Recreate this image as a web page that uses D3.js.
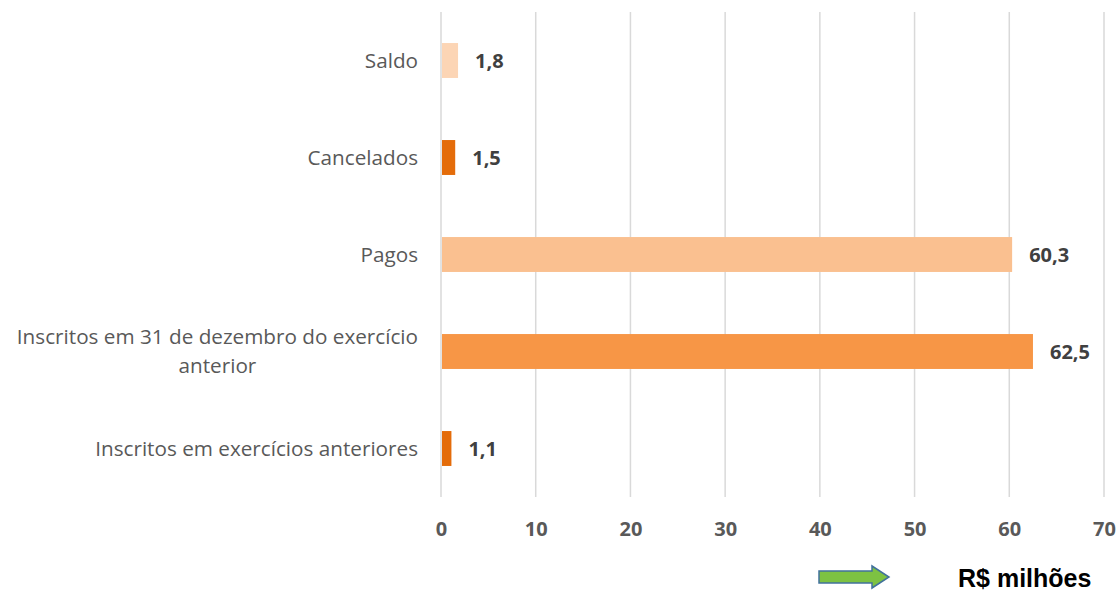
<!DOCTYPE html>
<html>
<head>
<meta charset="utf-8">
<script src="https://cdn.jsdelivr.net/npm/d3@7"></script>
<style>
  html, body { margin: 0; padding: 0; background: #fff; }
  #chartDiv { width: 1119px; height: 591px; }
</style>
</head>
<body>
<div id="chartDiv"></div>
<script>
const categories = [
  "Inscritos em exercícios anteriores",
  "Inscritos em 31 de dezembro do exercício anterior",
  "Pagos",
  "Cancelados",
  "Saldo"
];
const values = [1.1, 62.5, 60.3, 1.5, 1.8];
const barColors = ["#e46c0a", "#f79646", "#fac090", "#e46c0a", "#fcd5b5"];
const tickValues = [0, 10, 20, 30, 40, 50, 60, 70];
const unitLabel = "R$ milhões";

const width = 1119, height = 591;
const fontFamily = "'Open Sans', 'Noto Sans', sans-serif";

const svg = d3.select("#chartDiv").append("svg")
    .attr("width", width)
    .attr("height", height)
    .attr("viewBox", [0, 0, width, height]);

const x = d3.scaleLinear().domain([0, 70]).range([441, 1104]);
// categories run bottom to top
const y = d3.scaleBand()
    .domain(categories.slice().reverse())
    .range([12, 497])
    .paddingInner(0.64)
    .paddingOuter(0.32);

// grid
svg.append("g")
  .selectAll("line")
  .data(tickValues)
  .join("line")
    .attr("x1", d => x(d)).attr("x2", d => x(d))
    .attr("y1", 12).attr("y2", 497)
    .attr("stroke", "#d9d9d9")
    .attr("stroke-width", 1.5);

// bars
const rows = categories.map((c, i) => ({cat: c, value: values[i], color: barColors[i]}));
svg.append("g")
  .selectAll("rect")
  .data(rows)
  .join("rect")
    .attr("x", x(0) + 1)
    .attr("y", d => y(d.cat))
    .attr("width", d => x(d.value) - x(0) - 1)
    .attr("height", y.bandwidth())
    .attr("fill", d => d.color);

// value labels
svg.append("g")
  .selectAll("text")
  .data(rows)
  .join("text")
    .attr("x", d => x(d.value) + 17)
    .attr("y", d => y(d.cat) + y.bandwidth() / 2)
    .attr("dy", "0.35em")
    .attr("font-family", fontFamily)
    .attr("font-size", 20)
    .attr("font-weight", "bold")
    .attr("fill", "#404040")
    .text(d => d3.format(".1f")(d.value).replace(".", ","));

// x axis tick labels
const xAxis = d3.axisBottom(x).tickValues(tickValues).tickSize(0).tickPadding(0);
const gx = svg.append("g")
    .attr("transform", "translate(0,529)")
    .call(xAxis);
gx.select(".domain").remove();
gx.selectAll("text")
    .attr("dy", "0.35em")
    .attr("font-family", fontFamily)
    .attr("font-size", 20)
    .attr("font-weight", "bold")
    .attr("fill", "#595959");

// category labels, wrapped and centred within their block, block right-aligned
const catSize = 20.7;
const catG = svg.append("g")
    .attr("font-family", fontFamily)
    .attr("font-size", catSize)
    .attr("fill", "#595959");

const measure = svg.append("text").attr("font-family", fontFamily).attr("font-size", catSize);
function textWidth(s) { measure.text(s); return measure.node().getComputedTextLength(); }

const maxW = 430, rightEdge = 418, lineH = 29;
categories.forEach(c => {
  const words = c.split(" ");
  const lines = [];
  let cur = "";
  words.forEach(w => {
    const t = cur ? cur + " " + w : w;
    if (textWidth(t) > maxW && cur) { lines.push(cur); cur = w; }
    else cur = t;
  });
  lines.push(cur);
  const blockW = d3.max(lines, textWidth);
  const cx = rightEdge - blockW / 2;
  const cy = y(c) + y.bandwidth() / 2;
  const t = catG.append("text")
      .attr("text-anchor", "middle");
  lines.forEach((l, i) => {
    t.append("tspan")
      .attr("x", cx)
      .attr("y", cy + (i - (lines.length - 1) / 2) * lineH)
      .attr("dy", "0.35em")
      .text(l);
  });
});
measure.remove();

// unit arrow + label
svg.append("path")
    .attr("d", "M819,571 L872,571 L872,566 L889,577 L872,588 L872,583 L819,583 Z")
    .attr("fill", "#7dc242")
    .attr("stroke", "#41719c")
    .attr("stroke-width", 1.5);

svg.append("text")
    .attr("x", 958)
    .attr("y", 587)
    .attr("font-family", "'Liberation Sans', Arial, sans-serif")
    .attr("font-size", 25)
    .attr("font-weight", "bold")
    .attr("fill", "#000")
    .text(unitLabel);
</script>
</body>
</html>
